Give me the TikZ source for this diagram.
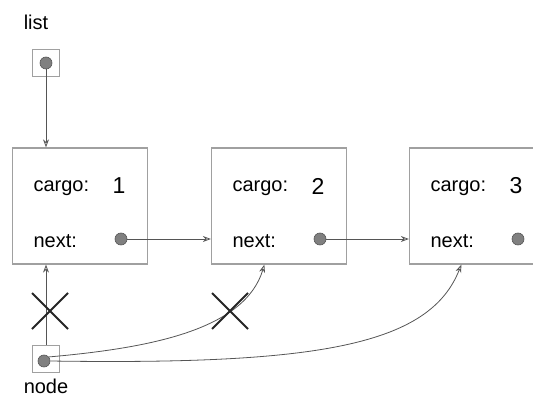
\documentclass[tikz,border=0pt]{standalone}
\usepackage{fontspec}
\setmainfont{Liberation Sans}
\usetikzlibrary{positioning,arrows.meta}
\tikzset{>={Stealth[open,length=8pt,width=6pt]}}
\definecolor{boxgray}{HTML}{A0A0A0}
\definecolor{linegray}{HTML}{555555}
\definecolor{dotgray}{HTML}{808080}

\begin{document}
\begin{tikzpicture}[x=1pt, y=-1pt, font=\fontsize{20}{24}\selectfont,
    cell/.style={rectangle, draw=boxgray, line width=1.3pt, minimum width=135pt, minimum height=116pt},
    ptr/.style={rectangle, draw=boxgray, line width=1.3pt, minimum size=27pt},
    dot/.style={circle, fill=dotgray, draw=linegray, line width=0.6pt, inner sep=0pt, minimum size=12pt},
    link/.style={draw=linegray, line width=0.8pt, ->},
    cross/.style={draw=black!85, line width=1.8pt}]
  \useasboundingbox (0,0) rectangle (533,398);
  \clip (0,0) rectangle (533,398);
  % the three cells
  \foreach \i/\x/\v in {1/80/1,2/279/2,3/477/3} {
    \node[cell] (c\i) at (\x,206) {};
    \node[anchor=west] (g\i) at (\x-50,188) {cargo:};
    \node[font=\fontsize{23}{26}\selectfont] (v\i) at (\x+39,186) {\v};
    \node[anchor=west] (n\i) at (\x-50,241) {next:};
    \node[dot] (d\i) at (\x+41,239) {};
  }
  \draw[link] (d1) -- (c2.west |- d1);
  \draw[link] (d2) -- (c3.west |- d2);
  % list
  \node (listlbl) at (36,22) {list};
  \node[ptr] (lbox) at (46,63) {};
  \node[dot] (ldot) at (lbox) {};
  \draw[link] (ldot) -- (ldot |- c1.north);
  % node
  \node[ptr] (nbox) at (46,359) {};
  \node[dot] (ndot) at (44,361) {};
  \node (nodelbl) at (46,386) {node};
  \draw[link] (nbox.north) -- (nbox.north |- c1.south);
  \draw[link] (ndot.40) .. controls (150,348) and (245,330) .. (c2.256);
  \draw[link] (ndot.0) .. controls (320,365) and (430,345) .. (c3.255);
  % crossed out
  \draw[cross] (32,293) -- (68,329) (32,329) -- (68,293);
  \draw[cross] (212,293) -- (248,329) (212,329) -- (248,293);
\end{tikzpicture}
\end{document}
